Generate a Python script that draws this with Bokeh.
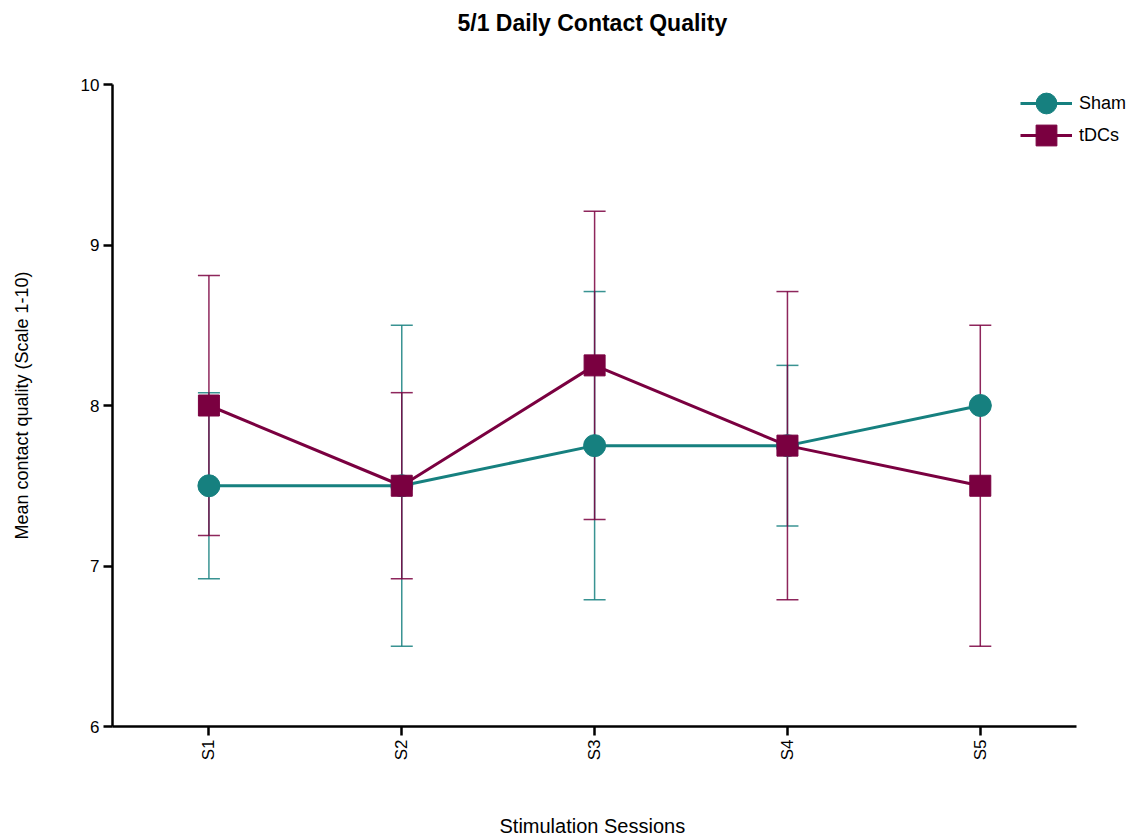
from math import pi
from bokeh.plotting import figure
from bokeh.models import Range1d, FixedTicker, Whisker, ColumnDataSource, Legend, LegendItem, TeeHead, Title
from bokeh.embed import file_html
from bokeh.resources import INLINE

sessions = ["S1", "S2", "S3", "S4", "S5"]
sham_mean = [7.5, 7.5, 7.75, 7.75, 8.0]
sham_lower = [6.92, 6.5, 6.79, 7.25, 8.0]
sham_upper = [8.08, 8.5, 8.71, 8.25, 8.0]
tdcs_mean = [8.0, 7.5, 8.25, 7.75, 7.5]
tdcs_lower = [7.19, 6.92, 7.29, 6.79, 6.5]
tdcs_upper = [8.81, 8.08, 9.21, 8.71, 8.5]
y_ticks = [6, 7, 8, 9, 10]

TEAL = "#16807f"
MAROON = "#7a0040"
FONT = "Liberation Sans"

xpos = list(range(1, len(sessions) + 1))

p = figure(width=1141, height=838, output_backend="svg", toolbar_location=None,
           x_range=Range1d(0.5, 5.81), y_range=Range1d(6, 10),
           min_border_left=112, min_border_right=5, min_border_top=84, min_border_bottom=111,
           outline_line_color=None)
p.title.text = "5/1 Daily Contact Quality"
p.title.align = "left"
p.title.offset = 345
p.title.text_font = FONT
p.title.text_font_size = "23px"
p.title.text_font_style = "bold"
p.title.text_color = "black"
p.title.vertical_align = "top"
p.title.standoff = 0

# spacer panel between title and frame
top_gap = Title(text=" ", text_font_size="1px", standoff=44)
p.add_layout(top_gap, "above")

p.xgrid.visible = False
p.ygrid.visible = False

src_s = ColumnDataSource(dict(x=xpos, y=sham_mean, lo=sham_lower, hi=sham_upper))
src_t = ColumnDataSource(dict(x=xpos, y=tdcs_mean, lo=tdcs_lower, hi=tdcs_upper))

for src, col in ((src_s, TEAL), (src_t, MAROON)):
    w = Whisker(source=src, base="x", lower="lo", upper="hi", line_color=col, line_width=1.5,
                line_alpha=0.85,
                upper_head=TeeHead(size=22, line_color=col, line_width=1.5, line_alpha=0.85),
                lower_head=TeeHead(size=22, line_color=col, line_width=1.5, line_alpha=0.85))
    p.add_layout(w)

l1 = p.line("x", "y", source=src_s, line_color=TEAL, line_width=3)
m1 = p.scatter("x", "y", source=src_s, marker="circle", size=22, fill_color=TEAL, line_color=TEAL)
l2 = p.line("x", "y", source=src_t, line_color=MAROON, line_width=3)
m2 = p.scatter("x", "y", source=src_t, marker="square", size=21, fill_color=MAROON, line_color=MAROON)

leg_style = dict(border_line_color=None, background_fill_alpha=0, label_text_font=FONT,
                 label_text_font_size="18px", label_text_color="black",
                 glyph_width=52, glyph_height=52, label_standoff=7, padding=8)
leg1 = Legend(items=[LegendItem(label="Sham", renderers=[l1, m1])], location=(908, 597), **leg_style)
leg2 = Legend(items=[LegendItem(label="tDCs", renderers=[l2, m2])], location=(908, 565), **leg_style)
p.add_layout(leg1)
p.add_layout(leg2)

for ax in (p.xaxis[0], p.yaxis[0]):
    ax.axis_line_width = 2.5
    ax.axis_line_color = "black"
    ax.major_tick_line_width = 2.5
    ax.major_tick_out = 9
    ax.major_tick_in = 0
    ax.minor_tick_line_color = None
    ax.major_label_text_font = FONT
    ax.major_label_text_font_size = "17px"
    ax.major_label_text_color = "black"

p.yaxis.ticker = FixedTicker(ticks=y_ticks)
p.yaxis.axis_label = "Mean contact quality (Scale 1-10)"
p.yaxis.axis_label_text_font = FONT
p.yaxis.axis_label_text_font_size = "18px"
p.yaxis.axis_label_text_font_style = "normal"
p.yaxis.axis_label_text_color = "black"
p.yaxis.axis_label_standoff = 46
p.yaxis.major_label_standoff = 4

p.xaxis.ticker = FixedTicker(ticks=xpos)
p.xaxis.major_label_overrides = {x: s for x, s in zip(xpos, sessions)}
p.xaxis.bounds = (0.5, 5.5)
p.xaxis.major_label_orientation = pi / 2
p.xaxis.major_label_standoff = 4

gap = Title(text=" ", text_font_size="1px", standoff=48)
p.add_layout(gap, "below")
xlabel = Title(text="Stimulation Sessions", align="left", offset=387, text_font=FONT,
               text_font_size="20px", text_font_style="normal", text_color="black",
               vertical_align="top", standoff=0)
p.add_layout(xlabel, "below")

open("out.html", "w").write(file_html(p, INLINE))
